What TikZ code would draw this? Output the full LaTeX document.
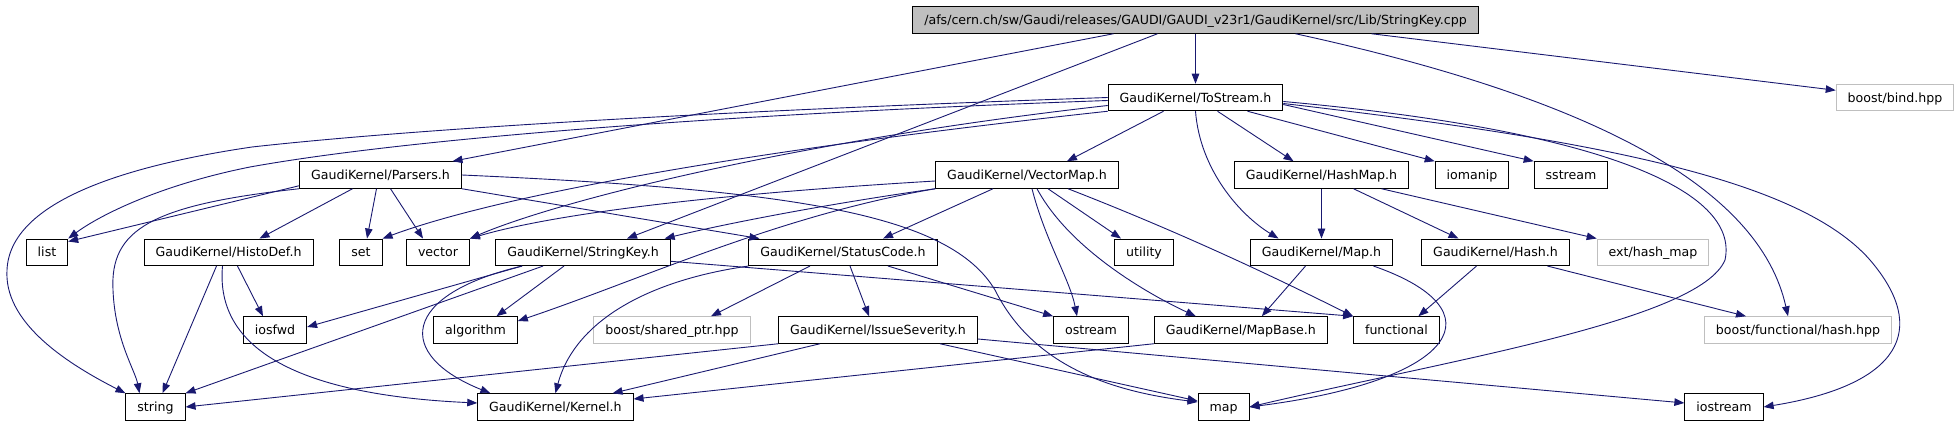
\documentclass[tikz,border=0pt]{standalone}
\usepackage{fontspec}
\setmainfont{DejaVu Sans}
\usetikzlibrary{shapes}
\usetikzlibrary{arrows.meta}
\definecolor{edgeblue}{HTML}{191970}
\definecolor{rootgrey}{HTML}{BFBFBF}
\definecolor{extgrey}{HTML}{BFBFBF}
\begin{document}
\begin{tikzpicture}[x=1pt,y=-1pt]
				\tikzstyle{hfile}=[rectangle,draw=black,line width=0.9pt,inner xsep=11.5pt,inner ysep=0pt,minimum height=26.6pt,text height=9.2pt,text depth=0pt,font=\fontsize{12.6}{15}\selectfont]
				\tikzstyle{extfile}=[hfile,draw=extgrey]
				\tikzstyle{inc}=[-{Triangle[length=10pt,width=7.5pt]},draw=edgeblue,fill=none,line width=0.9pt]
				\useasboundingbox (0,0) rectangle (1960,427);
				
				\node[hfile,fill=rootgrey] (root) at (1195.5,20) {/afs/cern.ch/sw/Gaudi/releases/GAUDI/GAUDI\_v23r1/GaudiKernel/src/Lib/StringKey.cpp};
				\node[hfile] (ts) at (1195.5,97.5) {GaudiKernel/ToStream.h};
				\node[extfile] (bind) at (1895,97.5) {boost/bind.hpp};
				\node[hfile] (parsers) at (380.5,175) {GaudiKernel/Parsers.h};
				\node[hfile] (vmap) at (1027,175) {GaudiKernel/VectorMap.h};
				\node[hfile] (hmap) at (1321.5,175) {GaudiKernel/HashMap.h};
				\node[hfile] (iomanip) at (1472,175) {iomanip};
				\node[hfile] (sstream) at (1571,175) {sstream};
				\node[hfile] (list) at (47,252.3) {list};
				\node[hfile] (histodef) at (228.5,252.3) {GaudiKernel/HistoDef.h};
				\node[hfile] (set) at (361,252.3) {set};
				\node[hfile] (vector) at (438,252.3) {vector};
				\node[hfile] (skey) at (583,252.3) {GaudiKernel/StringKey.h};
				\node[hfile] (status) at (843,252.3) {GaudiKernel/StatusCode.h};
				\node[hfile] (utility) at (1144,252.3) {utility};
				\node[hfile] (maph) at (1321.5,252.3) {GaudiKernel/Map.h};
				\node[hfile] (hash) at (1495.5,252.3) {GaudiKernel/Hash.h};
				\node[extfile] (exthash) at (1653,252.3) {ext/hash\_map};
				\node[hfile] (iosfwd) at (275,330) {iosfwd};
				\node[hfile] (algorithm) at (475.5,330) {algorithm};
				\node[extfile] (shptr) at (672,330) {boost/shared\_ptr.hpp};
				\node[hfile] (issue) at (878,330) {GaudiKernel/IssueSeverity.h};
				\node[hfile] (ostream) at (1091,330) {ostream};
				\node[hfile] (mapbase) at (1240.8,330) {GaudiKernel/MapBase.h};
				\node[hfile] (functional) at (1396.4,330) {functional};
				\node[extfile] (fhash) at (1798,330) {boost/functional/hash.hpp};
				\node[hfile] (string) at (155.5,407) {string};
				\node[hfile] (kernel) at (555.4,407) {GaudiKernel/Kernel.h};
				\node[hfile] (stdmap) at (1223.5,407) {map};
				\node[hfile] (iostream) at (1724,407) {iostream};
				
				\draw[inc] ([xshift=-82pt]root.south) -- ([xshift=72pt]parsers.north);
				\draw[inc] (root) -- (ts);
				\draw[inc] ([xshift=-38pt]root.south) -- ([xshift=44pt]skey.north);
				\draw[inc] ([xshift=176pt]root.south) -- (bind);
				\draw[inc] ([xshift=100pt]root.south) .. controls (1600,100) and (1760,190) .. ([xshift=-10pt]fhash.north);
				
				\draw[inc] (ts.west) .. controls (800,108) and (450,125) .. (252,147) .. controls (130,165) and (10,200) .. (7,270) .. controls (4,320) and (60,360) .. (string.north west);
				\draw[inc] ([yshift=-3pt]ts.west) .. controls (700,115) and (400,140) .. (250,167) .. controls (160,185) and (100,215) .. (list.north east);
				\draw[inc] (ts.south west) .. controls (750,150) and (500,195) .. (set.north east);
				\draw[inc] ([yshift=-8pt]ts.west) .. controls (800,140) and (560,200) .. (vector.north east);
				\draw[inc] ([xshift=-32pt]ts.south) -- ([xshift=40pt]vmap.north);
				\draw[inc] ([xshift=22pt]ts.south) -- ([xshift=-28pt]hmap.north);
				\draw[inc] (ts.south) .. controls (1200,170) and (1240,215) .. ([xshift=-43pt]maph.north);
				\draw[inc] ([xshift=52pt]ts.south) -- (iomanip.north west);
				\draw[inc] ([yshift=-7pt]ts.east) -- (sstream.north west);
				\draw[inc] ([yshift=-6pt]ts.east) .. controls (1600,140) and (1800,180) .. (1870,260) .. controls (1930,330) and (1900,385) .. (iostream.east);
				\draw[inc] ([yshift=-4pt]ts.east) .. controls (1600,130) and (1740,190) .. (1725,260) .. controls (1700,320) and (1450,360) .. (stdmap.east);
				
				\draw[inc] ([yshift=3pt]parsers.south west) -- ([yshift=-3pt]list.north east);
				\draw[inc] (parsers.south west) .. controls (150,205) and (110,230) .. (113,290) .. controls (115,340) and (135,370) .. ([xshift=-16pt]string.north);
				\draw[inc] ([xshift=-28pt]parsers.south) -- ([xshift=31pt]histodef.north);
				\draw[inc] ([xshift=-4pt]parsers.south) -- ([xshift=6pt]set.north);
				\draw[inc] ([xshift=10pt]parsers.south) -- ([xshift=-15pt]vector.north);
				\draw[inc] (parsers.south east) -- ([xshift=11pt]status.north west);
				\draw[inc] (parsers.east) .. controls (800,190) and (950,215) .. (995,290) .. controls (1030,360) and (1100,390) .. ([yshift=5pt]stdmap.west);
				
				\draw[inc] ([yshift=-6pt]vmap.west) .. controls (700,195) and (550,215) .. (vector.north east);
				\draw[inc] (vmap.south west) .. controls (820,205) and (720,225) .. ([xshift=-6pt]skey.north east);
				\draw[inc] (vmap.south west) .. controls (780,215) and (640,280) .. ([yshift=9pt]algorithm.east);
				\draw[inc] ([xshift=-34pt]vmap.south) -- ([xshift=40pt]status.north);
				\draw[inc] ([xshift=5pt]vmap.south) .. controls (1045,240) and (1070,280) .. ([xshift=-14pt]ostream.north);
				\draw[inc] ([xshift=10pt]vmap.south) .. controls (1070,250) and (1150,295) .. ([xshift=-45pt]mapbase.north);
				\draw[inc] ([xshift=21pt]vmap.south) -- ([xshift=-23pt]utility.north);
				\draw[inc] ([xshift=41pt]vmap.south) .. controls (1200,240) and (1300,290) .. (functional.north west);
				
				\draw[inc] (hmap) -- (maph);
				\draw[inc] ([xshift=32pt]hmap.south) -- ([xshift=-37pt]hash.north);
				\draw[inc] ([xshift=60pt]hmap.south) -- (exthash.north west);
				
				\draw[inc] ([xshift=9pt]histodef.south) -- ([xshift=-12pt]iosfwd.north);
				\draw[inc] ([xshift=-12pt]histodef.south) -- ([xshift=7pt]string.north);
				\draw[inc] ([xshift=-6pt]histodef.south) .. controls (215,350) and (300,395) .. ([yshift=4pt]kernel.west);
				
				\draw[inc] ([xshift=-61pt]skey.south) -- ([yshift=3pt]iosfwd.east);
				\draw[inc] ([xshift=-40pt]skey.south) -- (string.north east);
				\draw[inc] ([xshift=-19pt]skey.south) -- ([xshift=21pt]algorithm.north);
				\draw[inc] ([xshift=-61pt]skey.south) .. controls (400,295) and (395,355) .. ([xshift=-65pt]kernel.north);
				\draw[inc] ([yshift=-9pt]skey.east) -- (functional.north west);
				
				\draw[inc] ([xshift=-33pt]status.south) -- ([xshift=39pt]shptr.north);
				\draw[inc] ([xshift=7pt]status.south) -- ([xshift=-9pt]issue.north);
				\draw[inc] ([xshift=45pt]status.south) -- (ostream.north west);
				\draw[inc] (status.south west) .. controls (650,280) and (575,320) .. (kernel.north);
				
				\draw[inc] ([xshift=-16pt]maph.south) -- ([xshift=21pt]mapbase.north);
				\draw[inc] ([xshift=52pt]maph.south) .. controls (1500,310) and (1460,380) .. (stdmap.east);
				
				\draw[inc] ([xshift=-19pt]hash.south) -- ([xshift=22pt]functional.north);
				\draw[inc] ([xshift=52pt]hash.south) -- ([xshift=-52pt]fhash.north);
				
				\draw[inc] (issue.south west) -- (string.east);
				\draw[inc] ([xshift=-58pt]issue.south) -- ([xshift=-21pt]kernel.north east);
				\draw[inc] ([xshift=62pt]issue.south) -- ([yshift=6pt]stdmap.west);
				\draw[inc] ([yshift=-9pt]issue.east) -- ([yshift=4pt]iostream.west);
				
				\draw[inc] (mapbase.south west) -- ([yshift=8pt]kernel.east);
\end{tikzpicture}
\end{document}
